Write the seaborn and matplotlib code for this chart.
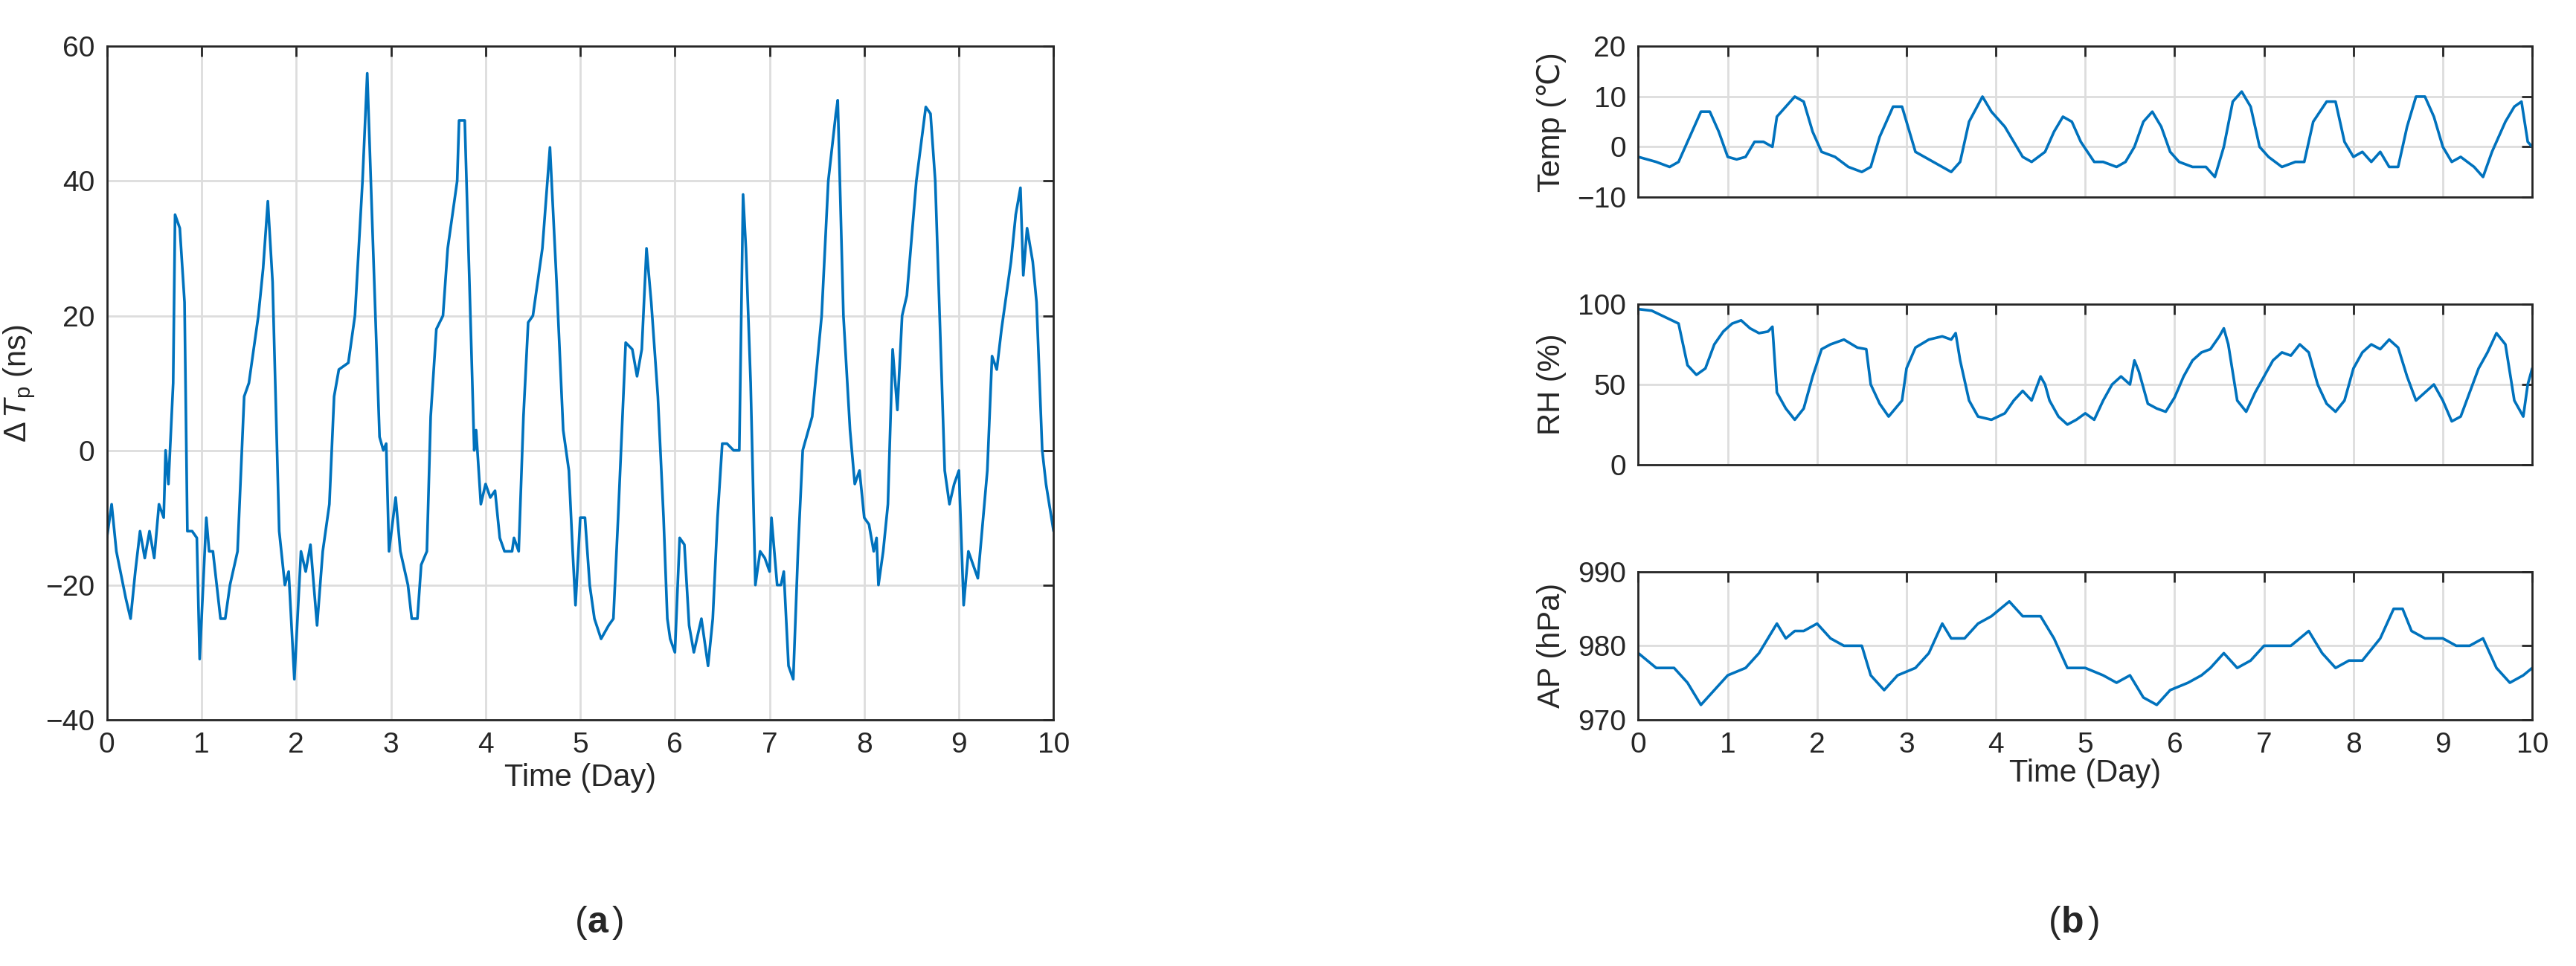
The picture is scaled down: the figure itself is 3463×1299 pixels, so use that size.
import numpy as np
import pandas as pd
import matplotlib
matplotlib.use("Agg")
import matplotlib.pyplot as plt
import seaborn as sns

sns.set_theme(style="white")
plt.rcParams['font.family'] = ['Liberation Sans', 'DejaVu Sans']
plt.rcParams['mathtext.fontset'] = 'custom'
plt.rcParams['mathtext.rm'] = 'Liberation Sans'
plt.rcParams['mathtext.it'] = 'Liberation Sans:italic'

LINE = '#0072BD'

# (a) ΔTp keypoints
tp_day = [0, 0.05, 0.1, 0.2, 0.25, 0.3, 0.35, 0.4, 0.45, 0.5, 0.55, 0.6, 0.62, 0.65, 0.7, 0.72, 0.77, 0.82, 0.85, 0.9,
          0.95, 0.98, 1.05, 1.08, 1.12, 1.2, 1.25, 1.3, 1.38, 1.45, 1.5, 1.6, 1.65, 1.7, 1.75, 1.82, 1.88, 1.92, 1.98, 2.05,
          2.1, 2.15, 2.22, 2.28, 2.35, 2.4, 2.45, 2.55, 2.62, 2.7, 2.75, 2.8, 2.88, 2.92, 2.95, 2.98, 3.05, 3.1, 3.18, 3.22,
          3.28, 3.32, 3.38, 3.42, 3.48, 3.55, 3.6, 3.7, 3.72, 3.78, 3.85, 3.88, 3.9, 3.95, 4.0, 4.05, 4.1, 4.15, 4.2, 4.28,
          4.3, 4.35, 4.4, 4.45, 4.5, 4.55, 4.6, 4.68, 4.75, 4.82, 4.88, 4.92, 4.95, 5.0, 5.05, 5.1, 5.15, 5.22, 5.3, 5.35,
          5.4, 5.48, 5.55, 5.6, 5.65, 5.7, 5.75, 5.82, 5.88, 5.92, 5.95, 6.0, 6.05, 6.1, 6.15, 6.2, 6.28, 6.35, 6.4, 6.45,
          6.5, 6.55, 6.62, 6.68, 6.72, 6.75, 6.8, 6.85, 6.9, 6.95, 7.0, 7.02, 7.05, 7.08, 7.12, 7.15, 7.2, 7.25, 7.3, 7.35,
          7.45, 7.55, 7.62, 7.7, 7.72, 7.78, 7.85, 7.9, 7.95, 8.0, 8.05, 8.1, 8.13, 8.15, 8.2, 8.25, 8.3, 8.35, 8.4, 8.45,
          8.55, 8.65, 8.7, 8.75, 8.85, 8.9, 8.95, 9.0, 9.05, 9.1, 9.2, 9.3, 9.35, 9.4, 9.45, 9.55, 9.6, 9.65, 9.68, 9.72,
          9.78, 9.82, 9.88, 9.92, 10]
tp_val = [-13, -8, -15, -22, -25, -18, -12, -16, -12, -16, -8, -10, 0, -5, 10, 35, 33, 22, -12, -12,
          -13, -31, -10, -15, -15, -25, -25, -20, -15, 8, 10, 20, 27, 37, 25, -12, -20, -18, -34, -15,
          -18, -14, -26, -15, -8, 8, 12, 13, 20, 40, 56, 35, 2, 0, 1, -15, -7, -15, -20, -25,
          -25, -17, -15, 5, 18, 20, 30, 40, 49, 49, 15, 0, 3, -8, -5, -7, -6, -13, -15, -15,
          -13, -15, 5, 19, 20, 25, 30, 45, 25, 3, -3, -15, -23, -10, -10, -20, -25, -28, -26, -25,
          -10, 16, 15, 11, 15, 30, 22, 8, -10, -25, -28, -30, -13, -14, -26, -30, -25, -32, -25, -10,
          1, 1, 0, 0, 38, 30, 10, -20, -15, -16, -18, -10, -15, -20, -20, -18, -32, -34, -15, 0,
          5, 20, 40, 50, 52, 20, 3, -5, -3, -10, -11, -15, -13, -20, -15, -8, 15, 6, 20, 23,
          40, 51, 50, 40, -3, -8, -5, -3, -23, -15, -19, -3, 14, 12, 18, 28, 35, 39, 26, 33,
          28, 22, 0, -5, -12]

temp_day = [0, 0.2, 0.35, 0.45, 0.6, 0.7, 0.8, 0.9, 1.0, 1.1, 1.2, 1.3, 1.4, 1.5, 1.55, 1.65, 1.75, 1.85, 1.95, 2.05,
            2.2, 2.35, 2.5, 2.6, 2.7, 2.85, 2.95, 3.0, 3.1, 3.3, 3.5, 3.6, 3.7, 3.85, 3.95, 4.1, 4.2, 4.3, 4.4, 4.55,
            4.65, 4.75, 4.85, 4.95, 5.1, 5.2, 5.35, 5.45, 5.55, 5.65, 5.75, 5.85, 5.95, 6.05, 6.2, 6.35, 6.45, 6.55, 6.65, 6.75,
            6.85, 6.95, 7.05, 7.2, 7.35, 7.45, 7.55, 7.7, 7.8, 7.9, 8.0, 8.1, 8.2, 8.3, 8.4, 8.5, 8.6, 8.7, 8.8, 8.9,
            9.0, 9.1, 9.2, 9.35, 9.45, 9.55, 9.7, 9.8, 9.88, 9.95, 10]
temp_val = [-2, -3, -4, -3, 3, 7, 7, 3, -2, -2.5, -2, 1, 1, 0, 6, 8, 10, 9, 3, -1,
            -2, -4, -5, -4, 2, 8, 8, 5, -1, -3, -5, -3, 5, 10, 7, 4, 1, -2, -3, -1,
            3, 6, 5, 1, -3, -3, -4, -3, 0, 5, 7, 4, -1, -3, -4, -4, -6, 0, 9, 11,
            8, 0, -2, -4, -3, -3, 5, 9, 9, 1, -2, -1, -3, -1, -4, -4, 4, 10, 10, 6,
            0, -3, -2, -4, -6, -1, 5, 8, 9, 1, 0]

rh_day = [0, 0.15, 0.3, 0.45, 0.5, 0.55, 0.65, 0.75, 0.85, 0.95, 1.05, 1.15, 1.25, 1.35, 1.45, 1.5, 1.55, 1.65, 1.75, 1.85,
          1.95, 2.05, 2.15, 2.3, 2.45, 2.55, 2.6, 2.7, 2.8, 2.95, 3.0, 3.1, 3.25, 3.4, 3.5, 3.55, 3.6, 3.7, 3.8, 3.95,
          4.1, 4.2, 4.3, 4.4, 4.5, 4.55, 4.6, 4.7, 4.8, 4.9, 5.0, 5.1, 5.2, 5.3, 5.4, 5.5, 5.55, 5.6, 5.7, 5.8,
          5.9, 6.0, 6.1, 6.2, 6.3, 6.4, 6.5, 6.55, 6.6, 6.7, 6.8, 6.9, 7.0, 7.1, 7.2, 7.3, 7.4, 7.5, 7.6, 7.7,
          7.8, 7.9, 8.0, 8.1, 8.2, 8.3, 8.4, 8.5, 8.6, 8.7, 8.8, 8.9, 9.0, 9.1, 9.2, 9.3, 9.4, 9.5, 9.6, 9.7,
          9.8, 9.9, 9.95, 10]
rh_val = [97, 96, 92, 88, 75, 62, 56, 60, 75, 83, 88, 90, 85, 82, 83, 86, 45, 35, 28, 35,
          55, 72, 75, 78, 73, 72, 50, 38, 30, 40, 60, 73, 78, 80, 78, 82, 65, 40, 30, 28,
          32, 40, 46, 40, 55, 50, 40, 30, 25, 28, 32, 28, 40, 50, 55, 50, 65, 58, 38, 35,
          33, 42, 55, 65, 70, 72, 80, 85, 75, 40, 33, 45, 55, 65, 70, 68, 75, 70, 50, 38,
          33, 40, 60, 70, 75, 72, 78, 73, 55, 40, 45, 50, 40, 27, 30, 45, 60, 70, 82, 75,
          40, 30, 50, 60]

ap_day = [0, 0.2, 0.4, 0.55, 0.7, 0.85, 1.0, 1.2, 1.35, 1.45, 1.55, 1.65, 1.75, 1.85, 2.0, 2.15, 2.3, 2.5, 2.6, 2.75,
          2.9, 3.1, 3.25, 3.4, 3.5, 3.65, 3.8, 3.95, 4.15, 4.3, 4.5, 4.65, 4.8, 5.0, 5.2, 5.35, 5.5, 5.65, 5.8, 5.95,
          6.15, 6.3, 6.4, 6.55, 6.7, 6.85, 7.0, 7.15, 7.3, 7.5, 7.65, 7.8, 7.95, 8.1, 8.3, 8.45, 8.55, 8.65, 8.8, 9.0,
          9.15, 9.3, 9.45, 9.6, 9.75, 9.9, 10]
ap_val = [979, 977, 977, 975, 972, 974, 976, 977, 979, 981, 983, 981, 982, 982, 983, 981, 980, 980, 976, 974,
          976, 977, 979, 983, 981, 981, 983, 984, 986, 984, 984, 981, 977, 977, 976, 975, 976, 973, 972, 974,
          975, 976, 977, 979, 977, 978, 980, 980, 980, 982, 979, 977, 978, 978, 981, 985, 985, 982, 981, 981,
          980, 980, 981, 977, 975, 976, 977]

TICK_FS = 14


def matlab_style(ax, yticks, ylim):
    ax.set_xlim(0, 10)
    ax.set_ylim(*ylim)
    ax.set_xticks(range(0, 11))
    ax.set_yticks(yticks)
    ax.grid(True, color='#dddddd', linewidth=1.0)
    ax.tick_params(direction='in', top=True, right=True, length=5, width=1, colors='#262626',
                   labelsize=TICK_FS, labelcolor='#262626', pad=6)
    for s in ax.spines.values():
        s.set_color('#262626')
        s.set_linewidth(1.0)
        s.set_visible(True)


def draw(ax, x, y):
    df = pd.DataFrame({'x': x, 'y': y})
    sns.lineplot(data=df, x='x', y='y', ax=ax, sort=False, estimator=None, color=LINE, linewidth=1.3)


fig = plt.figure(figsize=(17.315, 6.495), dpi=200)

ax_a = fig.add_axes([0.0415, 0.255, 0.3675, 0.697])
draw(ax_a, tp_day, tp_val)
matlab_style(ax_a, range(-40, 61, 20), (-40, 60))
ax_a.set_xlabel('Time (Day)', fontsize=TICK_FS + 1, color='#262626', labelpad=2)
ax_a.set_ylabel(r'$\Delta\,T_{\mathrm{p}}$ (ns)', fontsize=TICK_FS + 1, color='#262626')

ax_t = fig.add_axes([0.636, 0.796, 0.347, 0.156])
draw(ax_t, temp_day, temp_val)
matlab_style(ax_t, [-10, 0, 10, 20], (-10, 20))
ax_t.set_ylabel('Temp (℃)', fontsize=TICK_FS + 1, color='#262626')
ax_t.set_xlabel('')
ax_t.set_xticklabels([])

ax_r = fig.add_axes([0.636, 0.519, 0.347, 0.166])
draw(ax_r, rh_day, rh_val)
matlab_style(ax_r, [0, 50, 100], (0, 100))
ax_r.set_ylabel('RH (%)', fontsize=TICK_FS + 1, color='#262626')
ax_r.set_xlabel('')
ax_r.set_xticklabels([])

ax_p = fig.add_axes([0.636, 0.255, 0.347, 0.153])
draw(ax_p, ap_day, ap_val)
matlab_style(ax_p, [970, 980, 990], (970, 990))
ax_p.set_ylabel('AP (hPa)', fontsize=TICK_FS + 1, color='#262626')
ax_p.set_xlabel('Time (Day)', fontsize=TICK_FS + 1, color='#262626', labelpad=0)

for ax in (ax_t, ax_r, ax_p):
    ax.yaxis.set_label_coords(-0.08, 0.5)

fig.text(0.228, 0.045, '(', fontsize=18, ha='right', va='center')
fig.text(0.228, 0.045, 'a', fontsize=18, fontweight='bold', ha='left', va='center')
fig.text(0.2375, 0.045, ')', fontsize=18, ha='left', va='center')
fig.text(0.800, 0.045, '(', fontsize=18, ha='right', va='center')
fig.text(0.800, 0.045, 'b', fontsize=18, fontweight='bold', ha='left', va='center')
fig.text(0.8105, 0.045, ')', fontsize=18, ha='left', va='center')

fig.savefig('out.png', dpi=200, facecolor='white')
